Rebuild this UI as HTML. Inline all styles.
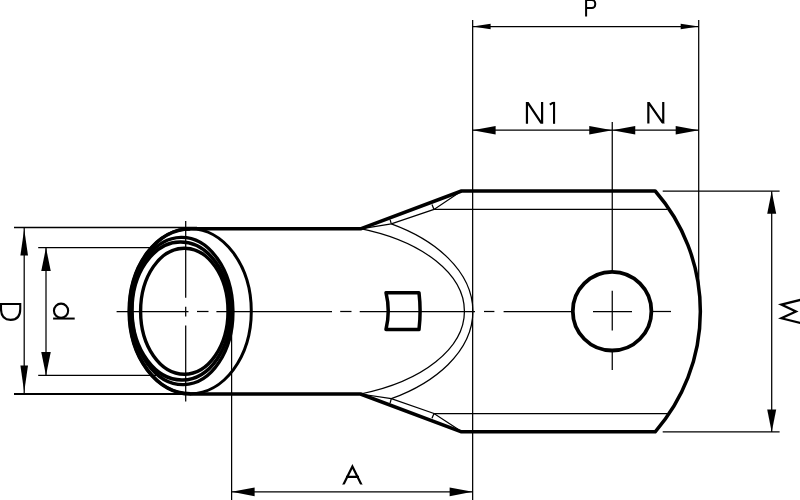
<!DOCTYPE html>
<html><head><meta charset="utf-8"><style>
html,body{margin:0;padding:0;background:#fff;width:800px;height:500px;overflow:hidden;font-family:"Liberation Sans",sans-serif;}
svg{display:block}
</style></head><body>
<svg width="800" height="500" viewBox="0 0 800 500">
<defs>
<clipPath id="cN1"><rect x="520" y="101.9" width="40" height="21.9"/></clipPath>
<clipPath id="cN2"><rect x="640" y="101.9" width="30" height="21.6"/></clipPath>
<clipPath id="cA"><rect x="335" y="455" width="35" height="29.6"/></clipPath>
</defs>
<g fill="none" stroke="#000" stroke-linecap="butt" stroke-linejoin="miter">
<line x1="472.65" y1="20" x2="472.65" y2="500" stroke-width="1.25"/>
<line x1="698.7" y1="20" x2="698.7" y2="296" stroke-width="1.25"/>
<line x1="472.65" y1="26.6" x2="698.7" y2="26.6" stroke-width="1.25"/>
<path d="M472.65,26.6 L490.65,23.85 L490.65,29.35Z" fill="#000" stroke="none"/>
<path d="M698.7,26.6 L680.7,29.35 L680.7,23.85Z" fill="#000" stroke="none"/>
<line x1="472.65" y1="130.15" x2="698.7" y2="130.15" stroke-width="1.25"/>
<path d="M472.65,130.15 L495.65,125.9 L495.65,134.4Z" fill="#000" stroke="none"/>
<path d="M612.25,130.15 L589.25,134.4 L589.25,125.9Z" fill="#000" stroke="none"/>
<path d="M612.25,130.15 L635.25,125.9 L635.25,134.4Z" fill="#000" stroke="none"/>
<path d="M698.7,130.15 L675.7,134.4 L675.7,125.9Z" fill="#000" stroke="none"/>
<line x1="612.25" y1="122" x2="612.25" y2="272" stroke-width="1.25"/>
<line x1="612.25" y1="290.8" x2="612.25" y2="330.4" stroke-width="1.25"/>
<line x1="612.25" y1="350" x2="612.25" y2="370" stroke-width="1.25"/>
<line x1="593" y1="311.5" x2="632" y2="311.5" stroke-width="1.25"/>
<line x1="651" y1="311.5" x2="671" y2="311.5" stroke-width="1.25"/>
<line x1="116.6" y1="311.5" x2="188.5" y2="311.5" stroke-width="1.25"/>
<line x1="197" y1="311.5" x2="208.5" y2="311.5" stroke-width="1.25"/>
<line x1="216.4" y1="311.5" x2="332" y2="311.5" stroke-width="1.25"/>
<line x1="340.2" y1="311.5" x2="351.5" y2="311.5" stroke-width="1.25"/>
<line x1="359.7" y1="311.5" x2="475" y2="311.5" stroke-width="1.25"/>
<line x1="484" y1="311.5" x2="494.4" y2="311.5" stroke-width="1.25"/>
<line x1="503.6" y1="311.5" x2="573" y2="311.5" stroke-width="1.25"/>
<line x1="185.7" y1="221" x2="185.7" y2="297.7" stroke-width="1.25"/>
<line x1="185.7" y1="306.7" x2="185.7" y2="316.6" stroke-width="1.25"/>
<line x1="185.7" y1="325.6" x2="185.7" y2="401.6" stroke-width="1.25"/>
<line x1="14" y1="227.45" x2="197" y2="227.45" stroke-width="1.6"/>
<line x1="14" y1="394" x2="197" y2="394" stroke-width="1.8"/>
<line x1="24.2" y1="227.45" x2="24.2" y2="394" stroke-width="1.25"/>
<path d="M24.2,229 L28,255.5 L20.4,255.5Z" fill="#000" stroke="none"/>
<path d="M24.2,392 L20.4,365.5 L28,365.5Z" fill="#000" stroke="none"/>
<line x1="38.2" y1="247.6" x2="153" y2="247.6" stroke-width="1.25"/>
<line x1="38.2" y1="375.4" x2="156" y2="375.4" stroke-width="1.25"/>
<line x1="46" y1="247.6" x2="46" y2="375.4" stroke-width="1.25"/>
<path d="M46,247.6 L50.75,271.1 L41.25,271.1Z" fill="#000" stroke="none"/>
<path d="M46,375.4 L41.25,351.9 L50.75,351.9Z" fill="#000" stroke="none"/>
<line x1="231.6" y1="311" x2="231.6" y2="500" stroke-width="1.25"/>
<line x1="231.6" y1="491.85" x2="472.65" y2="491.85" stroke-width="1.25"/>
<path d="M231.6,491.85 L254.6,487.45 L254.6,496.25Z" fill="#000" stroke="none"/>
<path d="M472.65,491.85 L449.65,496.25 L449.65,487.45Z" fill="#000" stroke="none"/>
<line x1="662.7" y1="191.15" x2="779.6" y2="191.15" stroke-width="1.25"/>
<line x1="662.7" y1="431.95" x2="779.6" y2="431.95" stroke-width="1.25"/>
<line x1="771.7" y1="191.15" x2="771.7" y2="431.95" stroke-width="1.25"/>
<path d="M771.7,191.15 L776.2,213.65 L767.2,213.65Z" fill="#000" stroke="none"/>
<path d="M771.7,431.95 L767.2,409.45 L776.2,409.45Z" fill="#000" stroke="none"/>
<line x1="434" y1="209.4" x2="667.5" y2="209.4" stroke-width="1.25"/>
<line x1="433.75" y1="413.5" x2="667.5" y2="413.5" stroke-width="1.25"/>
<path d="M360.5,228.8 L391.3,223.9 L434,209.4 L461.5,191" stroke-width="1.25"/>
<line x1="391.3" y1="223.9" x2="390.1" y2="219.6" stroke-width="1.25"/>
<line x1="434" y1="209.4" x2="432" y2="204.5" stroke-width="1.25"/>
<path d="M360.5,394 L391.3,398.7 L434,413.5 L461.5,431.6" stroke-width="1.25"/>
<line x1="391.3" y1="398.7" x2="390.1" y2="403.1" stroke-width="1.25"/>
<line x1="434" y1="413.5" x2="432" y2="418.3" stroke-width="1.25"/>
<path d="M360.5,228.6 A157.9,88 0 0 1 360.5,394.0" stroke-width="1.25"/>
<path d="M391.3,223.9 A168.4,102 0 0 1 391.3,398.7" stroke-width="1.25"/>
<path d="M185,228.8 L360.5,228.8 L461.5,191 L655.2,191 A183.1,183.1 0 0 1 655.2,431.8 L461.5,431.8 L360.5,394 L190,394" stroke-width="3.5" stroke-linejoin="round"/>
<ellipse cx="612.1" cy="311.2" rx="39.3" ry="39.3" stroke-width="3.8"/>
<path d="M386,292.7 L419,292.7 Q421.2,311.1 419,329.5 L386,329.5 Q390.5,311.1 386,292.7Z" stroke-width="3.5" stroke-linejoin="round"/>
<ellipse cx="190.3" cy="311.3" rx="61" ry="82.5" stroke-width="3.0"/>
<path d="M190.3,228.8 A61,82.5 0 0 0 190.3,393.8" stroke-width="3.8"/>
<ellipse cx="182.3" cy="311.0" rx="50.6" ry="73.6" stroke-width="3.4" transform="rotate(-1.0 182.3 311.0)"/>
<ellipse cx="181.3" cy="311.0" rx="49.3" ry="69.0" stroke-width="3.5" transform="rotate(-1.0 181.3 311.0)"/>
<ellipse cx="184.3" cy="311.2" rx="43.7" ry="63" stroke-width="3.4"/>
<g clip-path="url(#cN1)">
<path d="M526.95,126 L526.95,101.9 M525.27,99 L543.27,126 M542.1,123.8 L542.1,99" stroke-width="2.2"/>
<path d="M549.8,104.6 L554,102.1" stroke-width="2.0"/>
</g>
<g clip-path="url(#cN2)">
<path d="M648.35,126 L648.35,101.9 M646.18,99 L664.98,126 M663.25,123.5 L663.25,99" stroke-width="2.2"/>
</g>
<line x1="554.05" y1="101.9" x2="554.05" y2="123.8" stroke-width="2.1"/>
<path d="M586.1,16.6 L586.1,-2 M586.1,0 L591.9,0 A3.3,3.3 0 0 1 595.2,3.3 L595.2,4.8 A3.3,3.3 0 0 1 591.9,8.1 L586.1,8.1" stroke-width="2.0"/>
<g clip-path="url(#cA)">
<path d="M341.75,488 L352.4,466.4 L363.05,488 M346,476.8 L359,476.8" stroke-width="2.2" stroke-linejoin="miter"/>
</g>
<path d="M-2,304 L21.3,304 M1,304 L1,309 C1,317 5,319.85 10.6,319.85 C16.2,319.85 20.25,317 20.25,309 L20.25,304" stroke-width="2.1"/>
<circle cx="61.05" cy="310.7" r="7.1" stroke-width="2.1"/>
<path d="M53.1,318.55 L74.7,318.55" stroke-width="2.0"/>
<path d="M802,299.5 L781.3,304.6 L796,311.4 L781.3,318.2 L802,323.5" stroke-width="2.2" stroke-miterlimit="10"/>
</g></svg></body></html>
